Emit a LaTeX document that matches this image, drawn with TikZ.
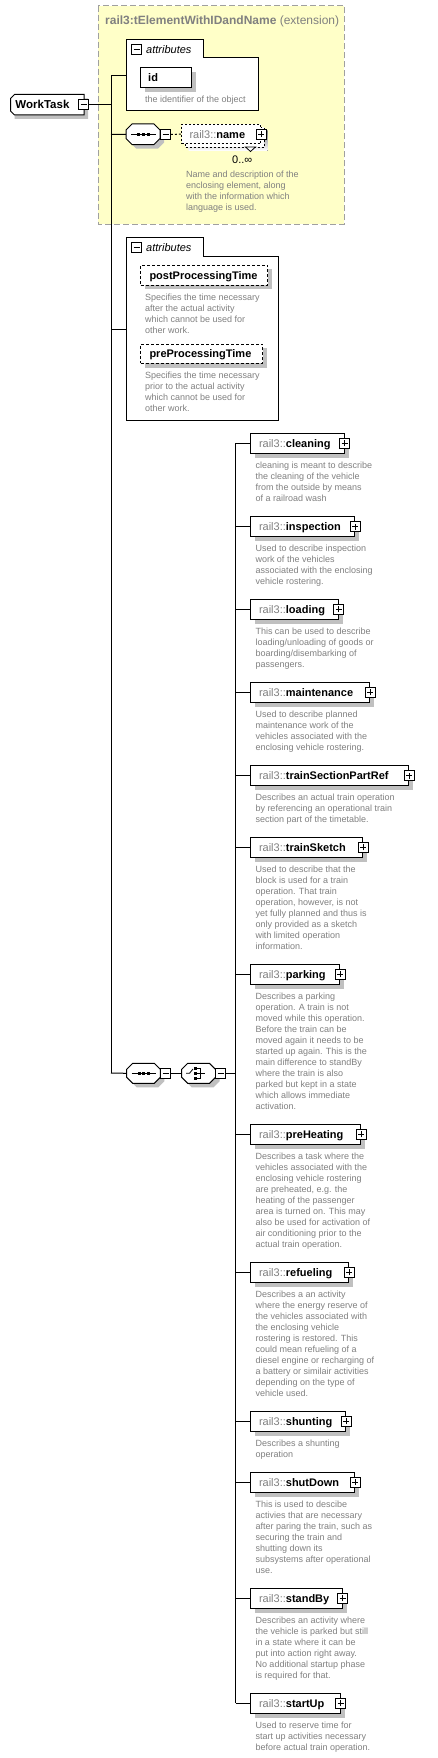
\documentclass[tikz,border=0pt]{standalone}
\usepackage{fontspec}
\setmainfont{Liberation Sans}
\usetikzlibrary{shadows}
\definecolor{yel}{RGB}{255,255,200}
\definecolor{dgray}{RGB}{160,160,160}
\definecolor{shade}{RGB}{192,192,192}
\definecolor{descgray}{RGB}{128,128,128}
\definecolor{pgray}{RGB}{128,128,128}
\tikzset{
  x=1pt, y=-1pt,
  ln/.style={line width=1pt},
  pmbox/.style={draw, fill=white, line width=0.8pt, minimum size=10pt, inner sep=0pt},
  shd/.style={drop shadow={shadow xshift=4.3pt, shadow yshift=-4.3pt, fill=shade, opacity=1}},
  elem/.style={draw, line width=1pt, fill=white, minimum height=20pt, inner sep=0pt, anchor=west, shd},
  attrbox/.style={draw, line width=1pt, fill=white, minimum height=20pt, inner sep=0pt, anchor=west, dash pattern=on 3pt off 2pt, shd},
  lbl/.style={anchor=base west, inner sep=0pt, font=\fontsize{11}{13}\selectfont},
  desc/.style={anchor=north west, inner sep=0pt, font=\fontsize{9}{11}\selectfont, text=descgray, align=left},
  ghost/.style={inner sep=0pt},
}
\newcommand\pbox[2]{\node[pmbox] (#1) at #2 {};
  \draw[line width=0.8pt] ([xshift=-3pt]#1.center) -- ([xshift=3pt]#1.center) ([yshift=-3pt]#1.center) -- ([yshift=3pt]#1.center);}
\newcommand\mbx[2]{\node[pmbox] (#1) at #2 {};
  \draw[line width=0.8pt] ([xshift=-3pt]#1.center) -- ([xshift=3pt]#1.center);}
% #1 style, #2 x1, #3 y1, #4 x2, #5 y2, #6 chamfer
\newcommand\octagon[6]{\path[#1] ({#2+#6},#3) -- ({#4-#6},#3) -- (#4,{#3+#6}) -- (#4,{#5-#6}) -- ({#4-#6},#5) -- ({#2+#6},#5) -- (#2,{#5-#6}) -- (#2,{#3+#6}) -- cycle;}
% #1 name, #2 y centre, #3 width, #4 label, #5 description
\newcommand\child[5]{%
  \node[elem, minimum width=#3pt] (#1) at (250.3,#2) {};
  \node[lbl] (#1-l) at (258.8,{#2+4}) {\textcolor{pgray}{rail3::}\textbf{#4}};
  \pbox{#1-p}{(#1.east)}
  \coordinate (c-#1) at (235.7,#2);
  \draw[ln] (c-#1) -- (#1.west);
  \node[desc] (#1-d) at (255.3,{#2+18.2}) {#5};
}
\begin{document}
\begin{tikzpicture}
\useasboundingbox (0,0) rectangle (437,1758);
\fill[white] (0,0) rectangle (437,1758);

% extension box
\draw[dgray, fill=yel, dash pattern=on 6pt off 3pt, line width=1pt] (98.3,5.7) rectangle (344.3,224);
\node[lbl, text=pgray, font=\fontsize{12}{14}\selectfont] (title) at (105,24.2) {\textbf{rail3:tElementWithIDandName} (extension)};

% WorkTask
\octagon{fill=shade, shift={(4,4)}}{10.5}{94.5}{84}{115}{0}
\path[fill=white, draw=black, line width=1pt] (14.5,94.5) -- (84,94.5) -- (84,115) -- (14.5,115) -- (10.5,111) -- (10.5,98.5) -- cycle;
\node[ghost, minimum width=73.5pt, minimum height=20.5pt] (WorkTask) at (47.25,104.75) {};
\node[lbl, font=\fontsize{11.5}{13}\selectfont] (WorkTask-l) at (15.3,109) {\textbf{WorkTask}};
\mbx{wtm}{(83.5,104.5)}
\coordinate (mtop) at (111,75.5);
\coordinate (mbot) at (111,1073);
\coordinate (mwt) at (111,104.5);
\draw[ln] (mtop) -- (mbot);
\draw[ln] (wtm.east) -- (mwt);

% attributes 1
\coordinate (a1) at (126,75.5);
\coordinate (a1j) at (111,75.5);
\draw[ln] (a1j) -- (a1);
\draw[ln, fill=white] (126,39.5) -- (203,39.5) -- (203,58) -- (258,58) -- (258,111) -- (126,111) -- cycle;
\mbx{a1m}{(136.7,49.3)}
\node[lbl] (a1t) at (146,54) {\textit{attributes}};
\node[elem, minimum width=51pt] (id) at (140,77.5) {};
\node[lbl] (id-l) at (148,81.5) {\textbf{id}};
\node[desc] (id-d) at (145,95.8) {the identifier of the object};

% sequence 1 and name
\coordinate (b2) at (111,134.5);
\octagon{fill=shade, shift={(4,4)}}{126}{124}{160}{144.5}{6}
\octagon{fill=white, draw=black, line width=1pt}{126}{124}{160}{144.5}{6}
\node[ghost, minimum width=34pt, minimum height=20.5pt] (seq1) at (143,134.25) {};
\draw[ln] (b2) -- (seq1.west);
\draw[line width=0.8pt] (131,134.5) -- (155.5,134.5);
\fill (137,133) rectangle (140,136);
\fill (141.8,133) rectangle (144.8,136);
\fill (146.6,133) rectangle (149.6,136);
\mbx{s1m}{(165.5,134.5)}
\fill[shade] (188.5,131) rectangle (267.5,150.5);
\draw[fill=white, line width=1pt, dash pattern=on 2pt off 2pt] (185,127.5) rectangle (264,147);
\node[draw, fill=white, line width=1pt, dash pattern=on 2pt off 2pt, minimum width=79pt, minimum height=19.5pt, inner sep=0pt] (name) at (221.2,134.05) {};
\draw[line width=1pt, dash pattern=on 2pt off 2pt] (s1m.east) -- (name.west);
\node[lbl] (name-l) at (189.3,138.5) {\textcolor{pgray}{rail3::}\textbf{name}};
\pbox{name-p}{(name.east)}
\draw[fill=white, line width=0.8pt] (245.5,147) -- (255.5,147) -- (250.5,151.5) -- cycle;
\node[lbl] (mult) at (232,163) {0..∞};
\node[desc] (name-d) at (186,170.8) {Name and description of the\\enclosing element, along\\with the information which\\language is used.};

% attributes 2
\coordinate (a2) at (126,329.3);
\coordinate (a2j) at (111,329.3);
\draw[ln] (a2j) -- (a2);
\draw[ln, fill=white] (126,237.3) -- (203,237.3) -- (203,256.3) -- (278,256.3) -- (278,420.3) -- (126,420.3) -- cycle;
\mbx{a2m}{(136.7,247.5)}
\node[lbl] (a2t) at (146,251.7) {\textit{attributes}};
\node[attrbox, minimum width=127pt] (post) at (140,275) {};
\node[lbl] (post-l) at (149.3,279) {\textbf{postProcessingTime}};
\node[desc] (post-d) at (145,293.5) {Specifies the time necessary\\after the actual activity\\which cannot be used for\\other work.};
\node[attrbox, minimum width=122pt, minimum height=19.3pt] (pre) at (140,353.7) {};
\node[lbl] (pre-l) at (149.3,357.7) {\textbf{preProcessingTime}};
\node[desc] (pre-d) at (145,371.8) {Specifies the time necessary\\prior to the actual activity\\which cannot be used for\\other work.};

% sequence 2 and choice
\octagon{fill=shade, shift={(4,4)}}{126.7}{1063.3}{160.3}{1083.3}{6}
\octagon{fill=white, draw=black, line width=1pt}{126.7}{1063.3}{160.3}{1083.3}{6}
\node[ghost, minimum width=33.6pt, minimum height=20pt] (seq2) at (143.5,1073.3) {};
\draw[ln] (mbot) -- (seq2.west);
\draw[line width=0.8pt] (131.5,1073.3) -- (155.5,1073.3);
\fill (137.5,1071.8) rectangle (140.5,1074.8);
\fill (142.2,1071.8) rectangle (145.2,1074.8);
\fill (146.9,1071.8) rectangle (149.9,1074.8);
\mbx{s2m}{(165.5,1073.3)}
\octagon{fill=shade, shift={(4,4)}}{181.7}{1063.3}{215.5}{1083.3}{6}
\octagon{fill=white, draw=black, line width=1pt}{181.7}{1063.3}{215.5}{1083.3}{6}
\node[ghost, minimum width=33.8pt, minimum height=20pt] (choice) at (198.6,1073.3) {};
\draw[ln] (s2m.east) -- (choice.west);
\draw[line width=0.8pt] (186,1073.3) -- (189.5,1073.3) -- (193,1069);
\fill (194,1067) rectangle (197,1069.6);
\fill (194,1072) rectangle (197,1074.6);
\fill (194,1077) rectangle (197,1079.6);
\draw[line width=0.8pt] (197,1068.3) -- (200.5,1068.3) -- (200.5,1078.3) -- (197,1078.3);
\draw[line width=0.8pt] (197,1073.3) -- (205,1073.3);
\mbx{chm}{(220.7,1073.3)}
\coordinate (chj) at (235.7,1073.3);
\draw[ln] (chm.east) -- (chj);
\coordinate (chtop) at (235.7,443.3);
\coordinate (chbot) at (235.7,1703.3);
\draw[ln] (chtop) -- (chbot);

% children
\child{cleaning}{443.3}{93.4}{cleaning}{cleaning is meant to describe\\the cleaning of the vehicle\\from the outside by means\\of a railroad wash}
\child{inspection}{526.7}{104}{inspection}{Used to describe inspection\\work of the vehicles\\associated with the enclosing\\vehicle rostering.}
\child{loading}{609.3}{87.4}{loading}{This can be used to describe\\loading/unloading of goods or\\boarding/disembarking of\\passengers.}
\child{maintenance}{692.3}{119}{maintenance}{Used to describe planned\\maintenance work of the\\vehicles associated with the\\enclosing vehicle rostering.}
\child{tspr}{775.7}{158}{trainSectionPartRef}{Describes an actual train operation\\by referencing an operational train\\section part of the timetable.}
\child{trainSketch}{847.3}{112}{trainSketch}{Used to describe that the\\block is used for a train\\operation. That train\\operation, however, is not\\yet fully planned and thus is\\only provided as a sketch\\with limited operation\\information.}
\child{parking}{974.3}{89}{parking}{Describes a parking\\operation. A train is not\\moved while this operation.\\Before the train can be\\moved again it needs to be\\started up again. This is the\\main difference to standBy\\where the train is also\\parked but kept in a state\\which allows immediate\\activation.}
\child{preHeating}{1134.3}{110}{preHeating}{Describes a task where the\\vehicles associated with the\\enclosing vehicle rostering\\are preheated, e.g. the\\heating of the passenger\\area is turned on. This may\\also be used for activation of\\air conditioning prior to the\\actual train operation.}
\child{refueling}{1272.3}{98}{refueling}{Describes a an activity\\where the energy reserve of\\the vehicles associated with\\the enclosing vehicle\\rostering is restored. This\\could mean refueling of a\\diesel engine or recharging of\\a battery or similair activities\\depending on the type of\\vehicle used.}
\child{shunting}{1421.3}{95}{shunting}{Describes a shunting\\operation}
\child{shutDown}{1482.3}{104}{shutDown}{This is used to descibe\\activies that are necessary\\after paring the train, such as\\securing the train and\\shutting down its\\subsystems after operational\\use.}
\child{standBy}{1598.3}{91.4}{standBy}{Describes an activity where\\the vehicle is parked but still\\in a state where it can be\\put into action right away.\\No additional startup phase\\is required for that.}
\child{startUp}{1703.3}{89.4}{startUp}{Used to reserve time for\\start up activities necessary\\before actual train operation.}
\end{tikzpicture}
\end{document}
